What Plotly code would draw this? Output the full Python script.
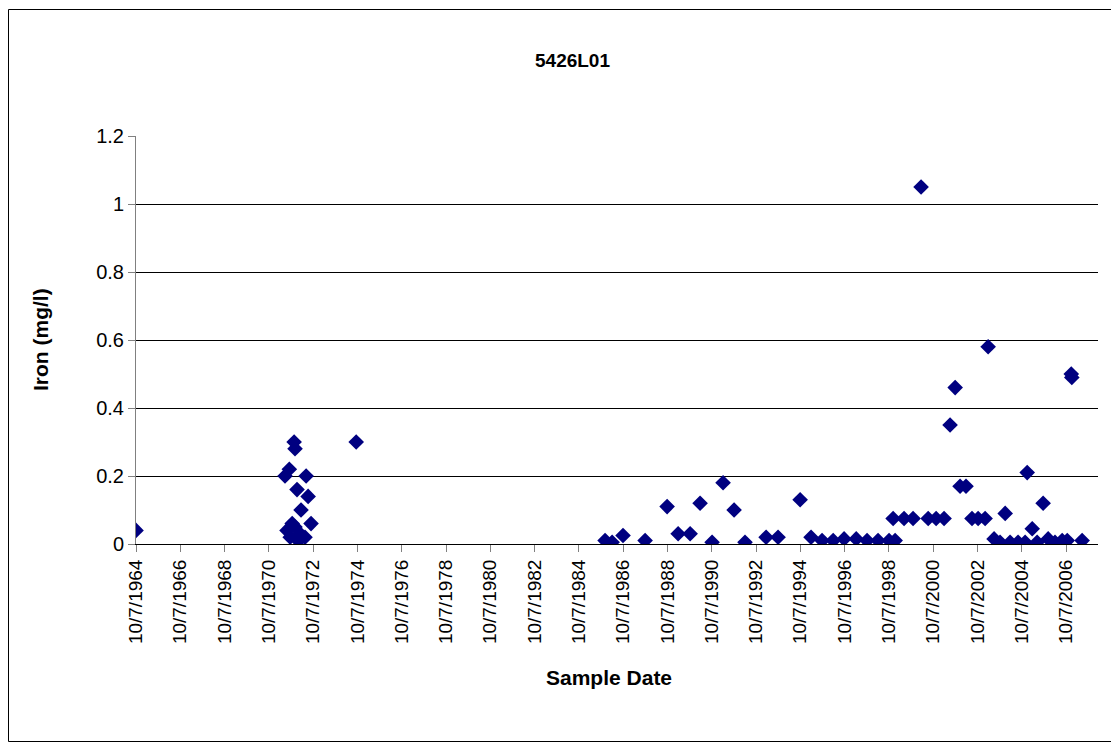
import plotly.graph_objects as go

# Sample dates and iron concentrations (mg/l)
dates = [
    "1964-10-07",
    "1971-07-01", "1971-08-03", "1971-09-10", "1971-09-24", "1971-10-27",
    "1971-11-28", "1971-12-13", "1971-12-13", "1972-01-15", "1972-02-01",
    "1972-03-06", "1972-03-21", "1972-04-07", "1972-05-26", "1972-06-13",
    "1972-07-16", "1972-09-02",
    "1974-09-17",
    "1985-12-13", "1986-04-08", "1986-10-05", "1987-10-04", "1988-10-01",
    "1989-04-01", "1989-10-16", "1990-03-29", "1990-10-13", "1991-04-12",
    "1991-10-11", "1992-04-08", "1993-03-22", "1993-10-05", "1994-10-04",
    "1995-04-02", "1995-10-01", "1996-04-01", "1996-09-28", "1997-04-16",
    "1997-10-12", "1998-04-11", "1998-10-10", "1999-01-18", "1998-12-16",
    "1999-06-14", "1999-11-10", "2000-03-21", "2000-07-16", "2000-11-24",
    "2001-04-04", "2001-07-12", "2001-10-04", "2001-12-24", "2002-04-01",
    "2002-07-09", "2002-10-18", "2003-02-10", "2003-04-01", "2003-07-08",
    "2003-10-15", "2004-01-07", "2004-03-28", "2004-08-07", "2004-12-01",
    "2005-01-04", "2005-03-28", "2005-06-17", "2005-09-24", "2005-12-16",
    "2006-04-08", "2006-08-04", "2006-10-27", "2007-01-01", "2007-01-10",
    "2007-06-29",
]
iron = [
    0.04,
    0.20, 0.04, 0.22, 0.02, 0.06,
    0.30, 0.28, 0.05, 0.16, 0.01,
    0.03, 0.10, 0.02, 0.02, 0.20,
    0.14, 0.06,
    0.30,
    0.01, 0.005, 0.025, 0.01, 0.11,
    0.03, 0.03, 0.12, 0.005, 0.18,
    0.10, 0.005, 0.02, 0.02, 0.13,
    0.02, 0.01, 0.01, 0.015, 0.015,
    0.01, 0.01, 0.01, 0.01, 0.075,
    0.075, 0.075, 1.05, 0.075, 0.075,
    0.075, 0.35, 0.46, 0.17, 0.17,
    0.075, 0.075, 0.075, 0.58, 0.015,
    0.005, 0.09, 0.005, 0.005, 0.005,
    0.21, 0.045, 0.005, 0.12, 0.015,
    0.005, 0.01, 0.01, 0.50, 0.49,
    0.01,
]

tick_dates = ["%d-10-07" % y for y in range(1964, 2007, 2)]
tick_labels = ["10/7/%d" % y for y in range(1964, 2007, 2)]
y_ticks = [0, 0.2, 0.4, 0.6, 0.8, 1.0, 1.2]
y_labels = ["0", "0.2", "0.4", "0.6", "0.8", "1", "1.2"]

# the page body has an 8px margin: work in page pixels, shift into figure
OFF = 8
W, H = 1111, 734
L, R, T, B = 136 - OFF, 1098 - OFF, 136 - OFF, 544 - OFF
pw, ph = R - L, B - T

def px(x):
    return (x - OFF - L) / pw

def py(y):
    return (B - (y - OFF)) / ph

fig = go.Figure()
fig.add_trace(go.Scatter(
    x=dates, y=iron, mode="markers",
    marker=dict(symbol="diamond", size=12, color="#000080",
                line=dict(width=0)),
    hoverinfo="x+y", showlegend=False,
))

fig.update_layout(
    width=W, height=H,
    margin=dict(l=L, r=W - R, t=T, b=H - B, pad=0),
    paper_bgcolor="white", plot_bgcolor="white",
    font=dict(family="Arial, Liberation Sans, sans-serif", color="black"),
    xaxis=dict(
        type="date",
        range=["1964-10-07", "2008-03-17"],
        tickmode="array", tickvals=tick_dates, ticktext=tick_labels,
        tickangle=-90, tickfont=dict(size=19),
        showgrid=False, zeroline=False,
        showline=True, linecolor="black", linewidth=1,
        ticks="outside", ticklen=7, tickcolor="#808080", tickwidth=1,
    ),
    yaxis=dict(
        range=[0, 1.2],
        tickmode="array", tickvals=y_ticks, ticktext=y_labels,
        tickfont=dict(size=20),
        showgrid=True, gridcolor="black", gridwidth=1,
        zeroline=False,
        showline=True, linecolor="#808080", linewidth=1,
        ticks="outside", ticklen=7, tickcolor="#808080", tickwidth=1,
    ),
    shapes=[dict(
        type="rect", xref="paper", yref="paper",
        x0=px(8.5), x1=px(1116.5), y0=py(741.5), y1=py(9.5),
        line=dict(color="black", width=1), fillcolor="rgba(0,0,0,0)",
        layer="below",
    )],
    annotations=[
        dict(text="<b>5426L01</b>", xref="paper", yref="paper",
             x=px(572), y=py(60), showarrow=False,
             font=dict(size=19), xanchor="center", yanchor="middle"),
        dict(text="<b>Sample Date</b>", xref="paper", yref="paper",
             x=px(609), y=py(677), showarrow=False,
             font=dict(size=21), xanchor="center", yanchor="middle"),
        dict(text="<b>Iron (mg/l)</b>", xref="paper", yref="paper",
             x=px(40), y=py(340), showarrow=False, textangle=-90,
             font=dict(size=21), xanchor="center", yanchor="middle"),
    ],
)

fig.write_html("out.html")
